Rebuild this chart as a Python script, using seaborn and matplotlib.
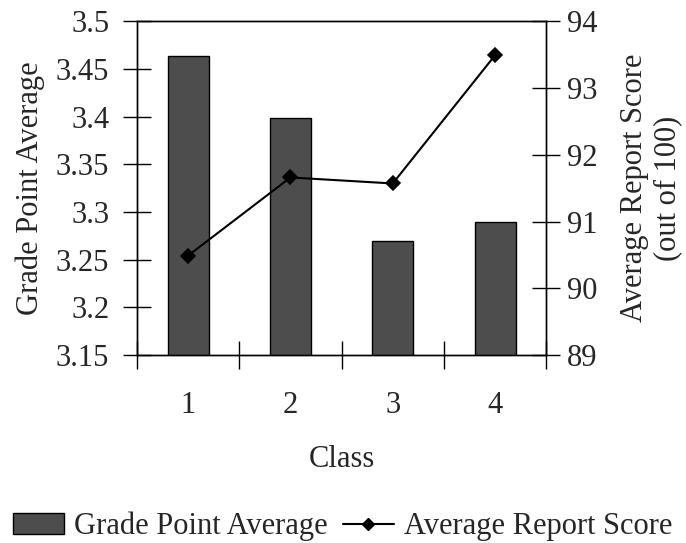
import matplotlib
matplotlib.use("Agg")
import matplotlib.pyplot as plt
from matplotlib.patches import Patch
from matplotlib.lines import Line2D
import pandas as pd
import seaborn as sns

classes = ["1", "2", "3", "4"]
gpa = [3.464, 3.399, 3.270, 3.290]
report_score = [90.49, 91.66, 91.57, 93.49]

sns.set_theme(style="white")
plt.rcParams["font.family"] = ["Liberation Serif", "DejaVu Serif"]
plt.rcParams["axes.edgecolor"] = "black"
plt.rcParams["axes.linewidth"] = 1.0

df = pd.DataFrame({"Class": classes, "gpa": gpa, "score": report_score})

fig = plt.figure(figsize=(6.86, 5.43), dpi=100)
ax = fig.add_axes([0.1997, 0.346, 0.5965, 0.615])

sns.barplot(data=df, x="Class", y="gpa", ax=ax, color="#4d4d4d",
            saturation=1, width=0.4, edgecolor="black", linewidth=1.0)
ax.set_ylim(3.15, 3.5)
ax.set_yticks([3.15, 3.2, 3.25, 3.3, 3.35, 3.4, 3.45, 3.5])
ax.set_yticklabels(["3.15", "3.2", "3.25", "3.3", "3.35", "3.4", "3.45", "3.5"])
ax.set_xlim(-0.5, 3.5)

ax2 = ax.twinx()
sns.pointplot(data=df, x="Class", y="score", ax=ax2, color="black",
              markers="D", linestyles="-", markersize=7, linewidth=1.5)
ax2.set_ylim(89, 94)
ax2.set_yticks([89, 90, 91, 92, 93, 94])
ax2.set_xlim(-0.5, 3.5)

fs = 22
ax.set_xticks([-0.5, 0.5, 1.5, 2.5, 3.5], minor=True)
ax.tick_params(axis="x", which="major", length=0, pad=26, labelsize=fs)
ax.tick_params(axis="x", which="minor", direction="inout", length=20,
               width=1, color="black", bottom=True)
ax.tick_params(axis="y", direction="inout", length=20, width=1,
               color="black", left=True, labelsize=fs, pad=10)
ax2.tick_params(axis="y", direction="inout", length=20, width=1,
                color="black", right=True, labelsize=fs, pad=5)

ax.set_xlabel("Class", fontsize=fs, labelpad=18)
ax.set_ylabel("Grade Point Average", fontsize=fs, labelpad=8)
ax2.set_ylabel("Average Report Score\n(out of 100)", fontsize=fs,
               labelpad=16, linespacing=1.2)

for a in (ax, ax2):
    for s in a.spines.values():
        s.set_visible(True)
        s.set_color("black")
        s.set_linewidth(1.0)

handles = [
    Patch(facecolor="#4d4d4d", edgecolor="black", linewidth=1.0,
          label="Grade Point Average"),
    Line2D([], [], color="black", marker="D", markersize=6, linewidth=1.5,
           label="Average Report Score"),
]
fig.legend(handles=handles, loc="center", bbox_to_anchor=(0.499, 0.03),
           ncol=2, frameon=False, fontsize=fs, handlelength=1.67,
           handletextpad=0.33, columnspacing=0.5, borderpad=0)

fig.savefig("out.png", dpi=100)
